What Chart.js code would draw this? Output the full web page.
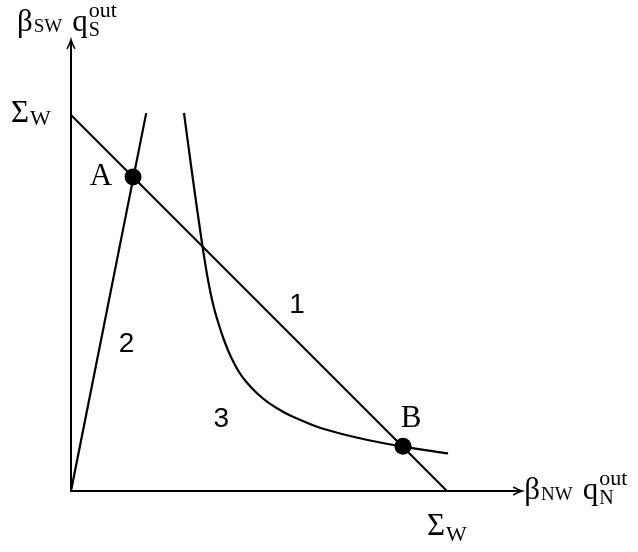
<!DOCTYPE html>
<html>
<head>
<meta charset="utf-8">
<script src="https://cdn.jsdelivr.net/npm/chart.js@4"></script>
<style>
  html, body { margin: 0; padding: 0; background: #ffffff; }
  #wrap { width: 638px; height: 552px; }
</style>
</head>
<body>
<div id="wrap"><canvas id="c" width="638" height="552"></canvas></div>
<script>
// Axis extent (both axes share the same units; Sigma_W = 10)
const axisMax = 12;
const sigmaW = 10;

// Line 1: the constraint x + y = Sigma_W
const budgetX = [0, sigmaW];
const budgetY = [sigmaW, 0];

// Line 2: steep ray from the origin
const rayX = [0, 2.0];
const rayY = [0, 10.05];

// Curve 3: convex decreasing curve
const curveX = [3.005, 3.245, 3.484, 3.644, 3.777, 3.910, 4.069, 4.255, 4.468, 4.681, 4.947, 5.239, 5.638, 5.904, 6.543, 7.154, 7.952, 8.830, 10.027];
const curveY = [10.053, 8.271, 6.596, 5.612, 4.973, 4.495, 4.016, 3.564, 3.165, 2.878, 2.598, 2.359, 2.106, 1.973, 1.707, 1.529, 1.343, 1.181, 1.000];

// Marked intersection points
const pointNames = ['A', 'B'];
const pointX = [1.65, 8.83];
const pointY = [8.35, 1.19];

// Region / curve numbers
const regionNames = ['1', '2', '3'];
const regionX = [6.01, 1.48, 4.00];
const regionY = [4.73, 3.70, 1.70];

const zip = (xs, ys) => xs.map((x, i) => ({ x, y: ys[i] }));

const SERIF = '"Liberation Serif", "DejaVu Serif", serif';
const SANS = '"Liberation Sans", "DejaVu Sans", sans-serif';

// Draw a sequence of text runs [text, fontSize, dx, dy]; returns the end x
function drawRuns(ctx, x, y, runs) {
  let cx = x;
  for (const [t, size, dx, dy] of runs) {
    ctx.font = size + 'px ' + SERIF;
    cx += dx || 0;
    ctx.fillText(t, cx, y + (dy || 0));
    cx += ctx.measureText(t).width;
  }
  return cx;
}

// Axis title of the form  beta_{sub} q_{idx}^{out}
function drawAxisTitle(ctx, x, y, sub, idx) {
  const end = drawRuns(ctx, x, y, [['\u03B2', 31, 0, 0], [sub, 19, 1, 1], ['q', 31, 10, 0]]);
  ctx.font = '20px ' + SERIF;
  ctx.fillText(idx, end + 1, y + 5);
  ctx.font = '22px ' + SERIF;
  ctx.fillText('out', end + 1, y - 14);
}

const annotate = {
  id: 'annotate',
  beforeDatasetsDraw(chart) {
    const { ctx, scales: { x, y } } = chart;
    const ox = x.getPixelForValue(0), oy = y.getPixelForValue(0);
    const xe = x.getPixelForValue(axisMax), ye = y.getPixelForValue(axisMax);
    ctx.save();
    ctx.strokeStyle = '#000';
    ctx.lineWidth = 2;
    ctx.lineCap = 'butt';
    ctx.beginPath();
    ctx.moveTo(ox, oy); ctx.lineTo(xe - 1, oy);
    ctx.moveTo(ox, oy + 1); ctx.lineTo(ox, ye + 1);
    ctx.stroke();
    // arrow heads
    ctx.lineWidth = 1.6;
    ctx.beginPath();
    ctx.moveTo(xe - 9, oy - 4); ctx.quadraticCurveTo(xe - 4, oy - 1, xe, oy);
    ctx.quadraticCurveTo(xe - 4, oy + 1, xe - 9, oy + 4);
    ctx.moveTo(ox - 4, ye + 9); ctx.quadraticCurveTo(ox - 1, ye + 4, ox, ye);
    ctx.quadraticCurveTo(ox + 1, ye + 4, ox + 4, ye + 9);
    ctx.stroke();
    ctx.restore();
  },
  afterDatasetsDraw(chart) {
    const { ctx, scales: { x, y } } = chart;
    ctx.save();
    ctx.fillStyle = '#000';
    ctx.textBaseline = 'alphabetic';

    // Point names
    ctx.font = '31px ' + SERIF;
    ctx.textAlign = 'center';
    ctx.fillText(pointNames[0], x.getPixelForValue(pointX[0]) - 32, y.getPixelForValue(pointY[0]) + 8);
    ctx.fillText(pointNames[1], x.getPixelForValue(pointX[1]) + 8, y.getPixelForValue(pointY[1]) - 19);

    // Region numbers
    ctx.font = '28px ' + SANS;
    regionNames.forEach((n, i) => {
      ctx.fillText(n, x.getPixelForValue(regionX[i]), y.getPixelForValue(regionY[i]));
    });

    ctx.textAlign = 'left';
    const ox = x.getPixelForValue(0), oy = y.getPixelForValue(0);
    const sx = x.getPixelForValue(sigmaW), sy = y.getPixelForValue(sigmaW);

    // Sigma_W on the vertical axis
    drawRuns(ctx, ox - 60, sy + 7, [['\u03A3', 31, 0, 0], ['W', 22, 1, 3]]);
    // Sigma_W below the horizontal axis
    drawRuns(ctx, sx - 20, oy + 44, [['\u03A3', 31, 0, 0], ['W', 22, 1, 6]]);

    // Axis titles
    drawAxisTitle(ctx, ox - 54, 31, 'SW', 'S');
    drawAxisTitle(ctx, x.getPixelForValue(axisMax) + 2, oy + 8, 'NW', 'N');

    ctx.restore();
  }
};

const lineStyle = {
  showLine: true,
  borderColor: '#000',
  borderWidth: 2.2,
  pointRadius: 0,
  fill: false
};

new Chart(document.getElementById('c'), {
  type: 'scatter',
  data: {
    datasets: [
      { ...lineStyle, label: '1', data: zip(budgetX, budgetY) },
      { ...lineStyle, label: '2', data: zip(rayX, rayY) },
      { ...lineStyle, label: '3', data: zip(curveX, curveY), tension: 0.3 },
      {
        label: 'points',
        data: zip(pointX, pointY),
        showLine: false,
        pointRadius: 8.5,
        pointBackgroundColor: '#000',
        pointBorderColor: '#000',
        pointBorderWidth: 0
      }
    ]
  },
  options: {
    responsive: false,
    devicePixelRatio: 1,
    animation: false,
    layout: { padding: { left: 71, top: 39.8, right: 115.8, bottom: 61 } },
    plugins: { legend: { display: false }, tooltip: { enabled: false } },
    scales: {
      x: { type: 'linear', min: 0, max: axisMax, display: false },
      y: { type: 'linear', min: 0, max: axisMax, display: false }
    }
  },
  plugins: [annotate]
});
</script>
</body>
</html>
